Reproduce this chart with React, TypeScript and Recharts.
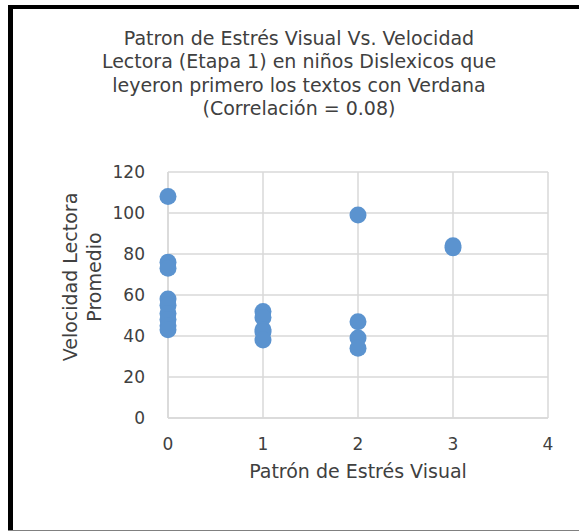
import React from 'react';
import { ScatterChart, Scatter, XAxis, YAxis, CartesianGrid, Label } from 'recharts';

// Patrón de estrés visual (eje X) y velocidad lectora promedio (eje Y)
const patron = [0, 0, 0, 0, 0, 0, 0, 0, 0, 1, 1, 1, 1, 1, 2, 2, 2, 2, 3, 3];
const velocidad = [108, 76, 73, 58, 55, 51, 48, 45, 43, 52, 49, 43, 42, 38, 99, 47, 39, 34, 84, 83];
const xTicks = [0, 1, 2, 3, 4];
const yTicks = [0, 20, 40, 60, 80, 100, 120];

const data = patron.map((x, i) => ({ x, y: velocidad[i] }));

const font = '"DejaVu Sans", sans-serif';
const ink = '#404040';

function YLabel(props: any) {
  const { viewBox } = props;
  const cy = viewBox.y + viewBox.height / 2 - 18;
  return (
    <g>
      <text x={70} y={cy} transform={`rotate(-90 70 ${cy})`} textAnchor="middle" dominantBaseline="central"
        fontSize={19} fill={ink} fontFamily={font}>Velocidad Lectora</text>
      <text x={94} y={cy} transform={`rotate(-90 94 ${cy})`} textAnchor="middle" dominantBaseline="central"
        fontSize={19} fill={ink} fontFamily={font}>Promedio</text>
    </g>
  );
}

export default function App() {
  return (
    <div style={{ position: 'fixed', left: 0, top: 0, width: 579, height: 531, background: '#fff', overflow: 'hidden' }}>
      {/* marco: solo arriba, izquierda y abajo */}
      <div style={{ position: 'absolute', left: 8, top: 5, width: 571, height: 4, background: '#000' }} />
      <div style={{ position: 'absolute', left: 8, top: 5, width: 5, height: 526, background: '#000' }} />
      <div style={{ position: 'absolute', left: 8, top: 530, width: 571, height: 1, background: '#808080' }} />
      <div style={{ position: 'absolute', left: 0, width: 598, top: 27, textAlign: 'center', fontFamily: font, fontSize: 19, lineHeight: '23.3px', color: ink }}>
        Patron de Estrés Visual Vs. Velocidad<br />
        Lectora (Etapa 1) en niños Dislexicos que<br />
        leyeron primero los textos con Verdana<br />
        (Correlación = 0.08)
      </div>
      <div style={{ position: 'absolute', left: 0, top: 0 }}>
        <ScatterChart width={579} height={531} margin={{ top: 172, right: 31, bottom: 0, left: 0 }}>
          <CartesianGrid stroke="#d9d9d9" strokeWidth={1.5} />
          <XAxis type="number" dataKey="x" domain={[0, 4]} ticks={xTicks} interval={0}
            axisLine={{ stroke: '#d9d9d9', strokeWidth: 1.5 }} tickLine={false} tickSize={0} tickMargin={20}
            tick={{ fontSize: 17, fill: ink, fontFamily: font }} height={113}>
            <Label value="Patrón de Estrés Visual" position="insideTop" offset={47}
              style={{ fontSize: 19, fill: ink, fontFamily: font }} />
          </XAxis>
          <YAxis type="number" dataKey="y" domain={[0, 120]} ticks={yTicks} interval={0}
            axisLine={{ stroke: '#d9d9d9', strokeWidth: 1.5 }} tickLine={false} tickSize={0} tickMargin={23}
            tick={{ fontSize: 17, fill: ink, fontFamily: font }} width={168}>
            <Label content={<YLabel />} />
          </YAxis>
          <Scatter data={data} fill="#5b93cf" isAnimationActive={false}
            shape={(p: any) => <circle cx={p.cx} cy={p.cy} r={8.5} fill="#5b93cf" />} />
        </ScatterChart>
      </div>
    </div>
  );
}
